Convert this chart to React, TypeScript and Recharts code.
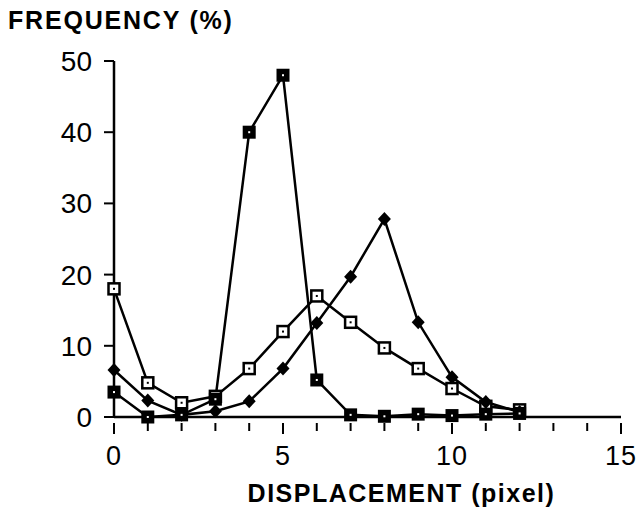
import { CartesianGrid, Line, LineChart, XAxis, YAxis } from "recharts";

const displacement = [0, 1, 2, 3, 4, 5, 6, 7, 8, 9, 10, 11, 12];
const filledSquare = [3.5, 0, 0.3, 2.5, 40, 48, 5.2, 0.3, 0.1, 0.4, 0.2, 0.4, 0.5];
const openSquare = [18, 4.8, 2, 2.9, 6.8, 12, 17, 13.3, 9.7, 6.8, 4, 1.5, 1];
const diamond = [6.6, 2.3, 0.3, 0.8, 2.2, 6.8, 13.2, 19.7, 27.8, 13.3, 5.6, 2.1, 0.7];

const xTicks = [0, 1, 2, 3, 4, 5, 6, 7, 8, 9, 10, 11, 12, 13, 14, 15];
const yTicks = [0, 10, 20, 30, 40, 50];

const rows = displacement.map((d, i) => ({
  d,
  filled: filledSquare[i],
  open: openSquare[i],
  diamond: diamond[i],
}));

const FONT = "'Liberation Sans', Arial, Helvetica, sans-serif";

function FilledSquareDot(props: any) {
  const { cx, cy } = props;
  if (cx == null || cy == null) return null;
  return (
    <g>
      <rect x={cx - 6.5} y={cy - 6.5} width={13} height={13} fill="#000" />
      <rect x={cx - 1} y={cy - 1} width={2} height={2} fill="#fff" />
    </g>
  );
}

function OpenSquareDot(props: any) {
  const { cx, cy } = props;
  if (cx == null || cy == null) return null;
  return (
    <g>
      <rect x={cx - 5.5} y={cy - 5.5} width={11} height={11} fill="#fff" stroke="#000" strokeWidth={2.5} />
      <rect x={cx - 1} y={cy - 1} width={2} height={2} fill="#000" />
    </g>
  );
}

function DiamondDot(props: any) {
  const { cx, cy } = props;
  if (cx == null || cy == null) return null;
  return <path d={`M${cx},${cy - 7} L${cx + 6.5},${cy} L${cx},${cy + 7} L${cx - 6.5},${cy} Z`} fill="#000" />;
}

function XTick(props: any) {
  const { x, y, payload } = props;
  const v = payload.value as number;
  const major = v % 5 === 0;
  return (
    <g>
      <line x1={x} y1={y - 2} x2={x} y2={y + (major ? 9 : 6)} stroke="#000" strokeWidth={2} />
      {major && (
        <text x={x} y={y + 40} textAnchor="middle" fontSize={27} letterSpacing={1} fontFamily={FONT} fill="#000">
          {v}
        </text>
      )}
    </g>
  );
}

function XLabel(props: any) {
  const vb = props.viewBox || { x: 114, width: 507 };
  return (
    <text
      x={vb.x + vb.width / 2 + 34}
      y={502}
      textAnchor="middle"
      fontFamily={FONT}
      fontWeight={700}
      fontSize={25}
      letterSpacing={1.5}
      fill="#000"
    >
      DISPLACEMENT (pixel)
    </text>
  );
}

export default function App() {
  return (
    <div style={{ position: "absolute", left: 0, top: 0, width: 638, height: 508, background: "#fff" }}>
      <div
        style={{
          position: "absolute",
          left: 8,
          top: 6,
          fontFamily: FONT,
          fontWeight: 700,
          fontSize: 25,
          letterSpacing: 1.8,
          color: "#000",
          whiteSpace: "nowrap",
        }}
      >
        FREQUENCY (%)
      </div>
      <LineChart width={638} height={508} data={rows} margin={{ top: 61, right: 17, left: 0, bottom: 0 }}>
        <CartesianGrid stroke="none" />
        <XAxis
          dataKey="d"
          type="number"
          domain={[0, 15]}
          ticks={xTicks}
          interval={0}
          height={91}
          axisLine={{ stroke: "#000", strokeWidth: 2.5 }}
          tickLine={false}
          tick={<XTick />}
          label={<XLabel />}
        />
        <YAxis
          type="number"
          domain={[0, 50]}
          ticks={yTicks}
          interval={0}
          width={114}
          axisLine={{ stroke: "#000", strokeWidth: 2.5 }}
          tickLine={{ stroke: "#000", strokeWidth: 2 }}
          tickSize={10}
          tickMargin={12}
          tick={{ fontSize: 28, fontFamily: FONT, fill: "#000" }}
        />
        <Line
          dataKey="open"
          stroke="#000"
          strokeWidth={2.5}
          dot={(p: any) => <OpenSquareDot key={`o${p.index}`} {...p} />}
          isAnimationActive={false}
        />
        <Line
          dataKey="diamond"
          stroke="#000"
          strokeWidth={2.5}
          dot={(p: any) => <DiamondDot key={`d${p.index}`} {...p} />}
          isAnimationActive={false}
        />
        <Line
          dataKey="filled"
          stroke="#000"
          strokeWidth={2.5}
          dot={(p: any) => <FilledSquareDot key={`f${p.index}`} {...p} />}
          isAnimationActive={false}
        />
      </LineChart>
    </div>
  );
}
